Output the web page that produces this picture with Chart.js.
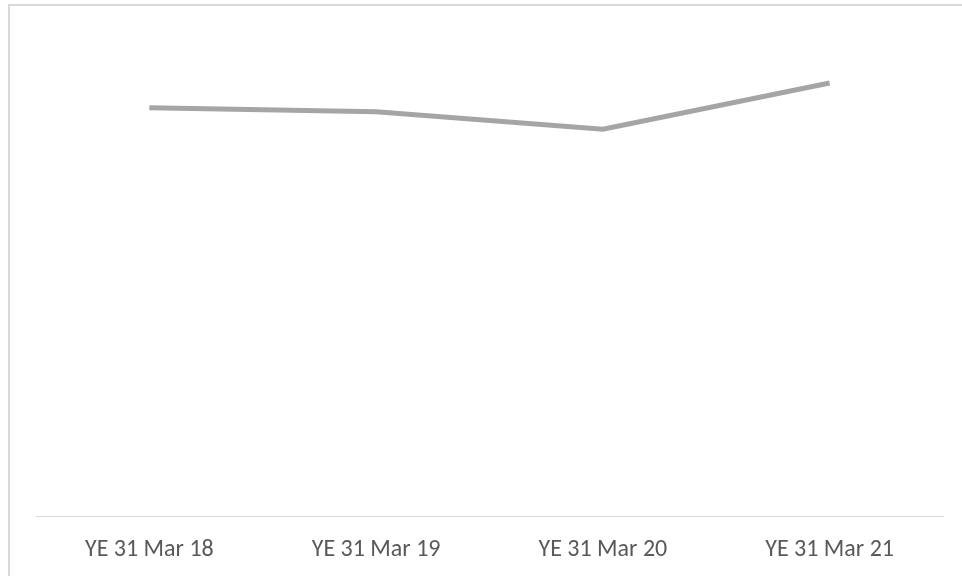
<!DOCTYPE html>
<html>
<head>
<meta charset="utf-8">
<script src="https://cdn.jsdelivr.net/npm/chart.js@4"></script>
<style>
  html, body { margin:0; padding:0; background:#fff; overflow:hidden; }
  #wrap { position:absolute; left:0; top:0; width:962px; height:576px; }
  #frame { position:absolute; left:8px; top:4px; width:1000px; height:600px;
           border-left:2px solid #d9d9d9; border-top:2px solid #d9d9d9; pointer-events:none; }
</style>
</head>
<body>
<div id="wrap"><canvas id="chart" width="962" height="576"></canvas></div>
<div id="frame"></div>
<script>
  // ---------- data ----------
  const categories = ["YE 31 Mar 18", "YE 31 Mar 19", "YE 31 Mar 20", "YE 31 Mar 21"];
  const seriesValues = [82.3, 81.5, 78.0, 87.3];

  new Chart(document.getElementById("chart"), {
    type: "line",
    data: {
      labels: categories,
      datasets: [{
        data: seriesValues,
        borderColor: "#a5a5a5",
        borderWidth: 5,
        pointRadius: 0,
        tension: 0,
        fill: false
      }]
    },
    options: {
      responsive: false,
      animation: false,
      layout: { padding: { left: 36, right: 19, top: 20, bottom: 0 } },
      plugins: { legend: { display: false }, tooltip: { enabled: false } },
      scales: {
        x: {
          offset: true,
          grid: { display: false, drawTicks: false },
          border: { display: true, color: "#d9d9d9", width: 1 },
          ticks: { color: "#595959", padding: 20, maxRotation: 0, font: { family: "Carlito, 'Open Sans', sans-serif", size: 24 } },
          // keep the axis band at a fixed height so the baseline sits where the original has it
          afterFit: (scale) => { scale.height = 60; }
        },
        y: { display: false, min: 0, max: 100 }
      }
    }
  });
</script>
</body>
</html>
